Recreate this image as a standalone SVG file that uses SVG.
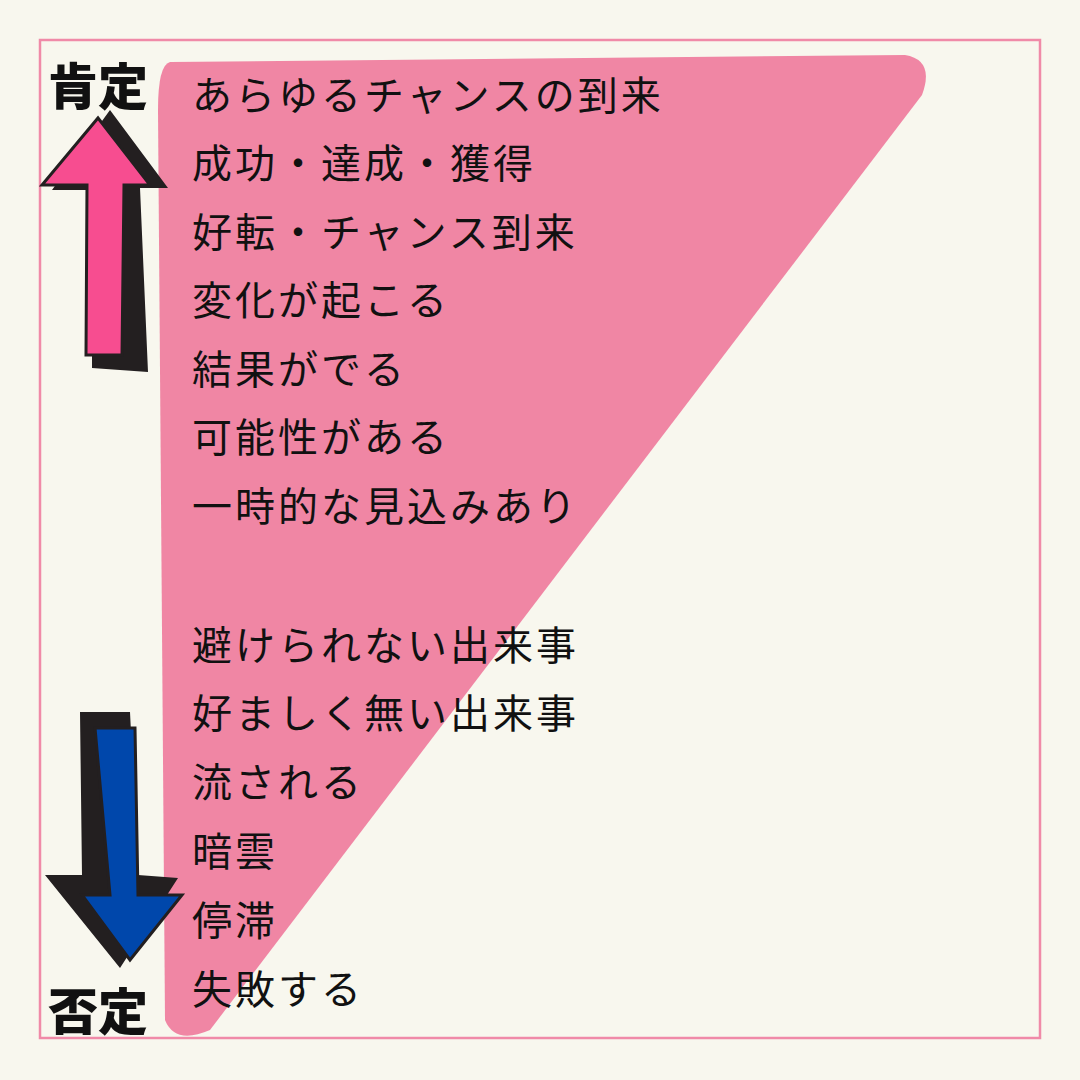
<svg xmlns="http://www.w3.org/2000/svg" width="1080" height="1080" viewBox="0 0 1080 1080">
<style>
.t{font-family:"Noto Sans CJK JP","Liberation Sans",sans-serif;font-size:40px;fill:#111;letter-spacing:3px}
.h{font-family:"Noto Sans CJK JP","Liberation Sans",sans-serif;font-size:50px;font-weight:900;fill:#111}
</style>
<rect width="1080" height="1080" fill="#f8f7ee"/>
<rect x="40" y="40" width="1000" height="998" fill="none" stroke="#f08aa8" stroke-width="2.5"/>
<g id="triangle"><path d="M170 62 L905 55 Q935 60 922 95 L210 1030 Q175 1045 165 1020 L158 110 Q158 65 170 62 Z" fill="#f086a4"/></g>
<g id="up-arrow">
<path d="M110 110 L168 188 L140 188 L148 372 L92 368 L92 190 L52 190 Z" fill="#231f20"/>
<path d="M98 118 L150 185 L124 185 L122 355 L86 355 L87 185 L42 185 Z" fill="#f74d90" stroke="#231f20" stroke-width="3"/>
</g>
<g id="down-arrow">
<path d="M80 712 L130 712 L138 875 L178 878 L120 968 L45 875 L82 875 Z" fill="#231f20"/>
<path d="M95 728 L135 728 L138 895 L182 895 L130 960 L82 895 L110 895 Z" fill="#0047ab" stroke="#231f20" stroke-width="3"/>
</g>
<g id="labels">
<text class="h" x="48" y="105">肯定</text>
<text class="h" x="48" y="1030">否定</text>
</g>
<g id="items">
<text class="t" x="192" y="110">あらゆるチャンスの到来</text>
<text class="t" x="192" y="178">成功・達成・獲得</text>
<text class="t" x="192" y="247">好転・チャンス到来</text>
<text class="t" x="192" y="315">変化が起こる</text>
<text class="t" x="192" y="384">結果がでる</text>
<text class="t" x="192" y="452">可能性がある</text>
<text class="t" x="192" y="521">一時的な見込みあり</text>
<text class="t" x="192" y="660">避けられない出来事</text>
<text class="t" x="192" y="728">好ましく無い出来事</text>
<text class="t" x="192" y="797">流される</text>
<text class="t" x="192" y="866">暗雲</text>
<text class="t" x="192" y="935">停滞</text>
<text class="t" x="192" y="1004">失敗する</text>
</g>
<g id="connectors"/>
</svg>
